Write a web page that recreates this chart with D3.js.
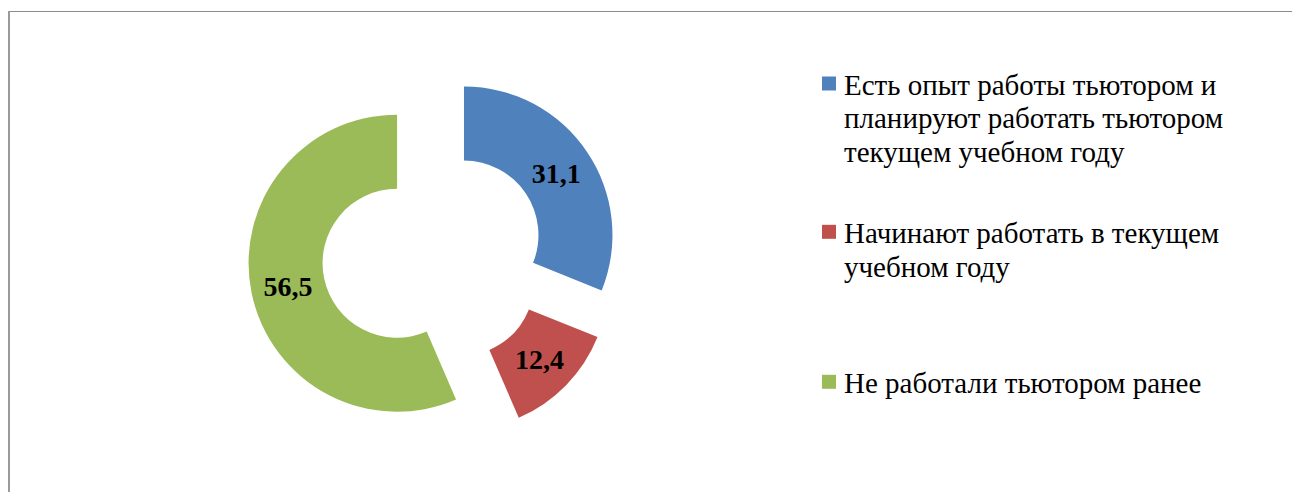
<!DOCTYPE html>
<html>
<head>
<meta charset="utf-8">
<script src="https://cdn.jsdelivr.net/npm/d3@7"></script>
<style>
  html, body { margin: 0; padding: 0; background: #fff; }
  svg { display: block; }
</style>
</head>
<body>
<svg id="chart" width="1292" height="492"></svg>
<script>
const categories = [
  "Есть опыт работы тьютором и планируют работать тьютором текущем учебном году",
  "Начинают работать в текущем учебном году",
  "Не работали тьютором ранее"
];
const values = [31.1, 12.4, 56.5];
const valueLabels = ["31,1", "12,4", "56,5"];
const legendLines = [
  ["Есть опыт работы тьютором и", "планируют работать тьютором", "текущем учебном году"],
  ["Начинают работать в текущем", "учебном году"],
  ["Не работали тьютором ранее"]
];
const colors = ["#4f81bd", "#c0504d", "#9bbb59"];
const FONT = '"Liberation Serif", "Times New Roman", serif';

const svg = d3.select("#chart");
const W = 1292, H = 492;

// frame
svg.append("rect").attr("x", 9.5).attr("y", 11.5).attr("width", W).attr("height", H)
  .attr("fill", "#fff").attr("stroke", "#8c8c8c").attr("stroke-width", 1);
svg.append("line").attr("x1", 9).attr("x2", 9).attr("y1", 11).attr("y2", H)
  .attr("stroke", "#9a9a9a").attr("stroke-width", 2);

const cx = 433.3, cy = 255.7;
const R = 148.5, r = 74.5, explode = 37;

const pie = d3.pie().sort(null).value(d => d);
const arcs = pie(values);
const arc = d3.arc().innerRadius(r).outerRadius(R);

const g = svg.append("g").attr("transform", `translate(${cx},${cy})`);
arcs.forEach((a, i) => {
  const mid = (a.startAngle + a.endAngle) / 2;
  const dx = explode * Math.sin(mid), dy = -explode * Math.cos(mid);
  const sg = g.append("g").attr("transform", `translate(${dx},${dy})`);
  sg.append("path").attr("d", arc(a)).attr("fill", colors[i]);
  const c = arc.centroid(a);
  sg.append("text").attr("x", c[0]).attr("y", c[1] + 10)
    .attr("text-anchor", "middle")
    .style("font-family", FONT)
    .style("font-weight", "bold").style("font-size", "28px")
    .attr("fill", "#000").text(valueLabels[i]);
});

// legend
const legendX = 822, textX = 844;
const firstBaselines = [95, 243.3, 393.3];
const lh = 33.3;
legendLines.forEach((lines, i) => {
  const y0 = firstBaselines[i];
  svg.append("rect").attr("x", legendX).attr("y", y0 - 18.5).attr("width", 14).attr("height", 14)
    .attr("fill", colors[i]);
  lines.forEach((ln, j) => {
    svg.append("text").attr("x", textX).attr("y", y0 + j * lh)
      .style("font-family", FONT)
      .style("font-size", "29px").attr("fill", "#000").text(ln);
  });
});
</script>
</body>
</html>
